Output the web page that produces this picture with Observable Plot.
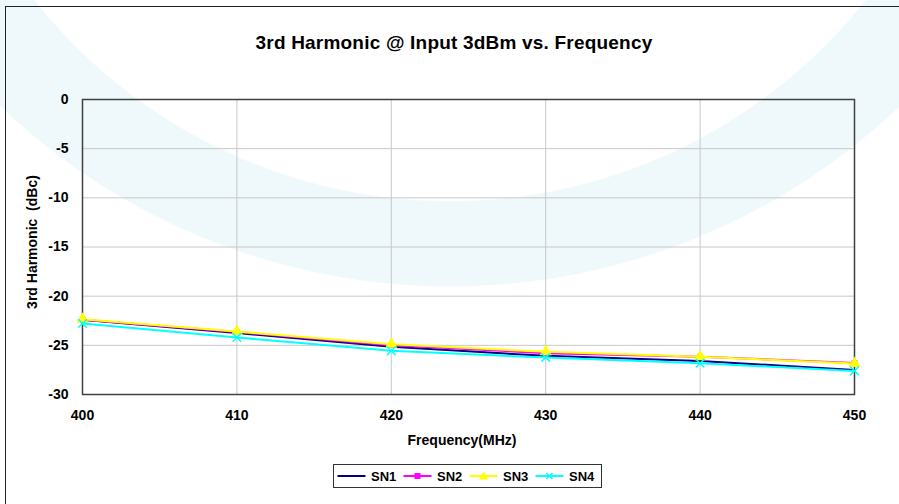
<!DOCTYPE html>
<html>
<head>
<meta charset="utf-8">
<script src="https://cdn.jsdelivr.net/npm/d3@7"></script>
<script src="https://cdn.jsdelivr.net/npm/@observablehq/plot@0.6"></script>
<style>
  html, body { margin: 0; padding: 0; background: #fff; }
  #chart {
    position: relative; width: 899px; height: 504px; overflow: hidden;
    font-family: Arial, "Liberation Sans", sans-serif; font-weight: bold; color: #000;
    background:
      radial-gradient(circle 531px at 450px -329px, #fff 99.7%, rgba(255,255,255,0) 100%),
      radial-gradient(circle 652px at 450px -365px, #eff8fa 99.8%, #fff 100%);
  }
  #frame { position: absolute; left: 5px; top: 6px; width: 1000px; height: 600px;
    border-left: 1px solid #222; border-top: 1px solid #222; }
  #title { position: absolute; left: 0; top: 33px; width: 908px; text-align: center;
    font-size: 19px; line-height: 19px; letter-spacing: 0.2px; }
  #xlabel { position: absolute; left: 0; top: 433px; width: 924px; text-align: center;
    font-size: 14px; line-height: 14px; }
  #ylabel { position: absolute; left: -68px; top: 235px; width: 200px; height: 14px; text-align: center;
    font-size: 14px; line-height: 14px; transform: rotate(-90deg); transform-origin: 100px 7px; white-space: pre; }
  #plot { position: absolute; left: 0; top: 0; }
  #legend { position: absolute; left: 333px; top: 464px; width: 269px; height: 24px; box-sizing: border-box;
    border: 1px solid #333; background: #fff; display: flex; align-items: center; padding-left: 3px; }
  .item { display: flex; align-items: center; width: 66.5px; font-size: 13px; }
  .item svg { margin-right: 5px; }
</style>
</head>
<body>
<div id="chart">
  <div id="frame"></div>
  <div id="plot"></div>
  <div id="title">3rd Harmonic @ Input 3dBm vs. Frequency</div>
  <div id="xlabel">Frequency(MHz)</div>
  <div id="ylabel">3rd Harmonic  (dBc)</div>
  <div id="legend"></div>
</div>
<script>
// Data
const freq = [400, 410, 420, 430, 440, 450];
const sn1 = [-22.4, -23.75, -25.15, -26.07, -26.6, -27.5];
const sn2 = [-22.4, -23.65, -24.98, -25.8, -26.15, -26.8];
const sn3 = [-22.35, -23.6, -24.88, -25.66, -26.17, -26.85];
const sn4 = [-22.78, -24.2, -25.56, -26.24, -26.82, -27.6];
const seriesNames = ["SN1", "SN2", "SN3", "SN4"];
const xTicks = [400, 410, 420, 430, 440, 450];
const yTicks = [0, -5, -10, -15, -20, -25, -30];

const colors = {SN1: "#000080", SN2: "#ff00ff", SN3: "#ffff00", SN4: "#00ffff"};
const symbols = {SN1: null, SN2: "square", SN3: "triangle", SN4: "times"};

const allSeries = [sn1, sn2, sn3, sn4];
const rows = [];
seriesNames.forEach((name, i) => {
  freq.forEach((f, j) => rows.push({series: name, freq: f, value: allSeries[i][j]}));
});

const fmt = d => String(d);
const marks = [
  Plot.gridX(xTicks, {stroke: "#c8c8c8", strokeOpacity: 1, strokeWidth: 1}),
  Plot.gridY(yTicks, {stroke: "#c8c8c8", strokeOpacity: 1, strokeWidth: 1}),
  Plot.axisX(xTicks, {tickSize: 0, tickPadding: 16, label: null, tickFormat: fmt, fontSize: 14, fontWeight: "bold", fill: "#000"}),
  Plot.axisY(yTicks, {tickSize: 0, tickPadding: 14, label: null, tickFormat: fmt, fontSize: 14, fontWeight: "bold", fill: "#000"}),
  Plot.frame({stroke: "#404040", strokeWidth: 1.5})
];
seriesNames.forEach(name => {
  const d = rows.filter(r => r.series === name);
  marks.push(Plot.line(d, {x: "freq", y: "value", stroke: colors[name], strokeWidth: 2}));
  if (symbols[name] === "times") {
    marks.push(Plot.dot(d, {x: "freq", y: "value", symbol: "times", r: 4, stroke: colors[name], strokeWidth: 1.5}));
  } else if (symbols[name] === "square") {
    marks.push(Plot.dot(d, {x: "freq", y: "value", symbol: "square", r: 3.2, fill: colors[name], stroke: "none"}));
  } else if (symbols[name] === "triangle") {
    marks.push(Plot.dot(d, {x: "freq", y: "value", symbol: "triangle", r: 4.5, fill: colors[name], stroke: "none"}));
  }
});

const chart = Plot.plot({
  width: 899,
  height: 460,
  marginTop: 99,
  marginBottom: 66,
  marginLeft: 82,
  marginRight: 45,
  style: {background: "transparent", fontFamily: "Arial, 'Liberation Sans', sans-serif", fontWeight: "bold", fontSize: "14px", color: "#000"},
  x: {domain: [400, 450]},
  y: {domain: [-30, 0]},
  marks
});
document.getElementById("plot").appendChild(chart);

// Legend
const legend = document.getElementById("legend");
const ns = "http://www.w3.org/2000/svg";
seriesNames.forEach(name => {
  const item = document.createElement("div");
  item.className = "item";
  const svg = document.createElementNS(ns, "svg");
  svg.setAttribute("width", 29); svg.setAttribute("height", 12);
  const ln = document.createElementNS(ns, "line");
  ln.setAttribute("x1", 0.5); ln.setAttribute("x2", 28.5); ln.setAttribute("y1", 6); ln.setAttribute("y2", 6);
  ln.setAttribute("stroke", colors[name]); ln.setAttribute("stroke-width", 2);
  svg.appendChild(ln);
  const s = symbols[name];
  if (s === "square") {
    const r = document.createElementNS(ns, "rect");
    r.setAttribute("x", 11.5); r.setAttribute("y", 3); r.setAttribute("width", 6); r.setAttribute("height", 6);
    r.setAttribute("fill", colors[name]); svg.appendChild(r);
  } else if (s === "triangle") {
    const p = document.createElementNS(ns, "path");
    p.setAttribute("d", "M14.5,1.5L19,9.5L10,9.5Z"); p.setAttribute("fill", colors[name]); svg.appendChild(p);
  } else if (s === "times") {
    const p = document.createElementNS(ns, "path");
    p.setAttribute("d", "M11.5,3L17.5,9M17.5,3L11.5,9"); p.setAttribute("stroke", colors[name]);
    p.setAttribute("stroke-width", 1.5); svg.appendChild(p);
  }
  item.appendChild(svg);
  const t = document.createElement("span");
  t.textContent = name;
  item.appendChild(t);
  legend.appendChild(item);
});
</script>
</body>
</html>
